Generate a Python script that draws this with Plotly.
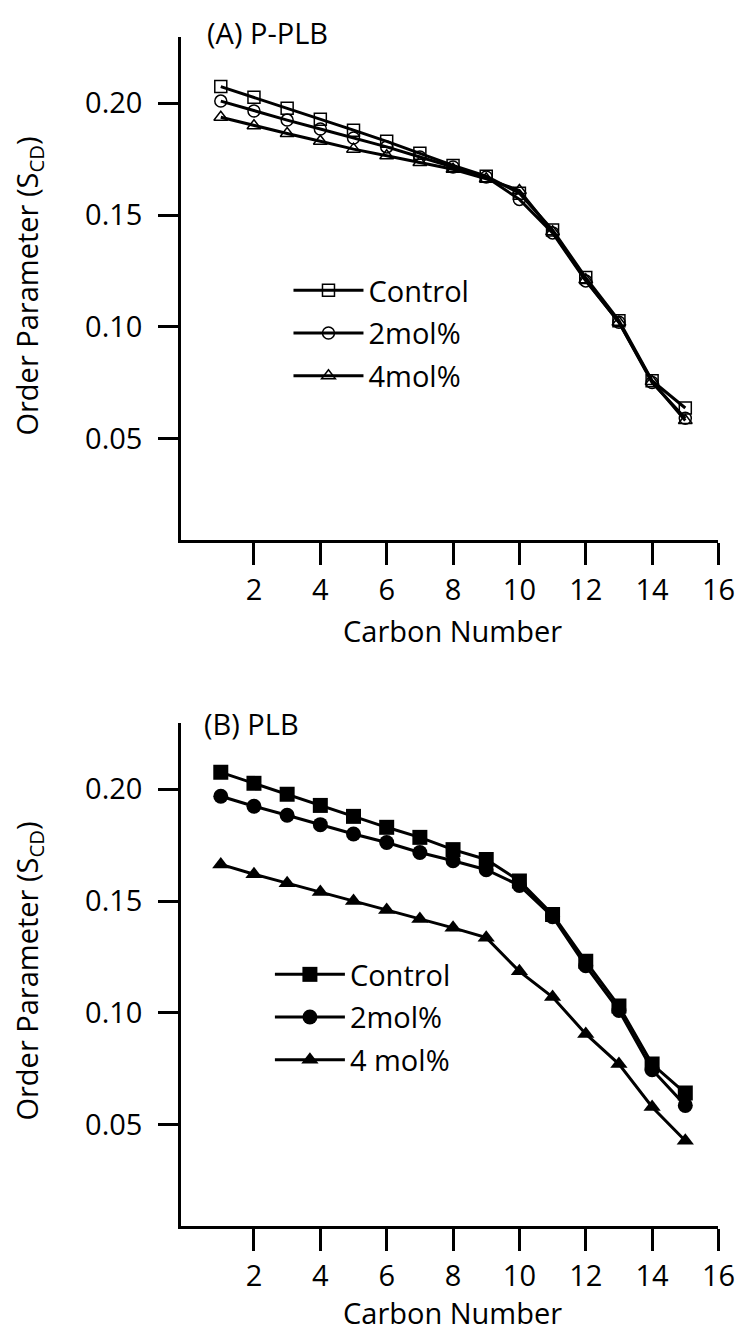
import plotly.graph_objects as go

carbon = list(range(1, 16))

a_control = [0.2075, 0.2027, 0.1978, 0.1929, 0.1880, 0.1830, 0.1777, 0.1722, 0.1674, 0.1598, 0.1433, 0.1220, 0.1027, 0.0758, 0.0636]
a_2mol = [0.2010, 0.1966, 0.1925, 0.1885, 0.1845, 0.1805, 0.1760, 0.1715, 0.1670, 0.1570, 0.1420, 0.1205, 0.1020, 0.0750, 0.0590]
a_4mol = [0.1938, 0.1900, 0.1865, 0.1830, 0.1795, 0.1765, 0.1735, 0.1705, 0.1662, 0.1610, 0.1425, 0.1210, 0.1020, 0.0755, 0.0580]

b_control = [0.2076, 0.2027, 0.1978, 0.1928, 0.1879, 0.1830, 0.1785, 0.1730, 0.1686, 0.1590, 0.1440, 0.1230, 0.1030, 0.0770, 0.0640]
b_2mol = [0.1969, 0.1924, 0.1884, 0.1842, 0.1800, 0.1762, 0.1717, 0.1680, 0.1640, 0.1570, 0.1430, 0.1210, 0.1010, 0.0745, 0.0585]
b_4mol = [0.1664, 0.1620, 0.1580, 0.1540, 0.1500, 0.1460, 0.1420, 0.1380, 0.1336, 0.1185, 0.1070, 0.0905, 0.0770, 0.0578, 0.0427]

names_a = ["Control", "2mol%", "4mol%"]
names_b = ["Control", "2mol%", "4 mol%"]
x_ticks = [2, 4, 6, 8, 10, 12, 14, 16]
y_ticks = [0.05, 0.10, 0.15, 0.20]

W, H = 748, 1332
FONT = "Open Sans"
FS = 29

fig = go.Figure()

sym_a = ["square-open", "circle-open", "triangle-up-open"]
sym_b = ["square", "circle", "triangle-up"]

for i, (name, ys) in enumerate(zip(names_a, [a_control, a_2mol, a_4mol])):
    fig.add_trace(go.Scatter(
        x=carbon, y=ys, name=name, mode="lines+markers",
        line=dict(color="black", width=3),
        marker=dict(symbol=sym_a[i], size=12, color="black", line=dict(color="black", width=1.5)),
        xaxis="x", yaxis="y", legend="legend", legendgroup="a%d" % i,
    ))

for i, (name, ys) in enumerate(zip(names_b, [b_control, b_2mol, b_4mol])):
    fig.add_trace(go.Scatter(
        x=carbon, y=ys, name=name, mode="lines+markers",
        line=dict(color="black", width=3),
        marker=dict(symbol=sym_b[i], size=15, color="black", line=dict(color="black", width=0)),
        xaxis="x2", yaxis="y2", legend="legend2", legendgroup="b%d" % i,
    ))

def px_x(p):
    return p / W

def px_y(p):
    return 1 - p / H

xdom = [px_x(177), px_x(727)]
common_x = dict(
    range=[-0.2, 16], tickvals=x_ticks, ticks="outside", ticklen=22, tickwidth=2.5,
    tickcolor="black", showline=True, linecolor="black", linewidth=2.5,
    showgrid=False, zeroline=False, tickfont=dict(family=FONT, size=FS, color="black"),
    ticklabelstandoff=0, domain=xdom,
)
common_y = dict(
    range=[0.0045, 0.2297], tickvals=y_ticks, tickformat=".2f", ticks="outside",
    ticklen=20, tickwidth=2.5, tickcolor="black", showline=True, linecolor="black",
    linewidth=2.5, showgrid=False, zeroline=False,
    tickfont=dict(family=FONT, size=FS, color="black"), ticklabelstandoff=10,
)

fig.update_layout(
    width=W, height=H,
    margin=dict(l=0, r=0, t=0, b=0),
    paper_bgcolor="white", plot_bgcolor="white",
    font=dict(family=FONT, size=FS, color="black"),
    xaxis=dict(**common_x, anchor="y"),
    yaxis=dict(**common_y, domain=[px_y(532), px_y(29)], anchor="x"),
    xaxis2=dict(**common_x, anchor="y2"),
    yaxis2=dict(**common_y, domain=[px_y(1218), px_y(715)], anchor="x2"),
    legend=dict(x=px_x(287), y=px_y(257), xanchor="left", yanchor="top",
                bgcolor="rgba(0,0,0,0)", font=dict(family=FONT, size=FS, color="black"),
                tracegroupgap=2, itemwidth=70),
    legend2=dict(x=px_x(268), y=px_y(941), xanchor="left", yanchor="top",
                 bgcolor="rgba(0,0,0,0)", font=dict(family=FONT, size=FS, color="black"),
                 tracegroupgap=2, itemwidth=70),
    showlegend=True,
)

annotations = [
    dict(text="(A) P-PLB", x=px_x(202), y=px_y(24), xanchor="left", yanchor="middle"),
    dict(text="(B) PLB", x=px_x(198), y=px_y(715), xanchor="left", yanchor="middle"),
    dict(text="Carbon Number", x=px_x(455), y=px_y(623), xanchor="center", yanchor="middle"),
    dict(text="Carbon Number", x=px_x(455), y=px_y(1304), xanchor="center", yanchor="middle"),
    dict(text="Order Parameter (S<sub>CD</sub>)", x=px_x(20), y=px_y(278), textangle=-90,
         xanchor="center", yanchor="middle"),
    dict(text="Order Parameter (S<sub>CD</sub>)", x=px_x(20), y=px_y(963), textangle=-90,
         xanchor="center", yanchor="middle"),
]
for a in annotations:
    a.update(xref="paper", yref="paper", showarrow=False,
             font=dict(family=FONT, size=FS, color="black"))
fig.update_layout(annotations=annotations)

fig.write_html("out.html")
